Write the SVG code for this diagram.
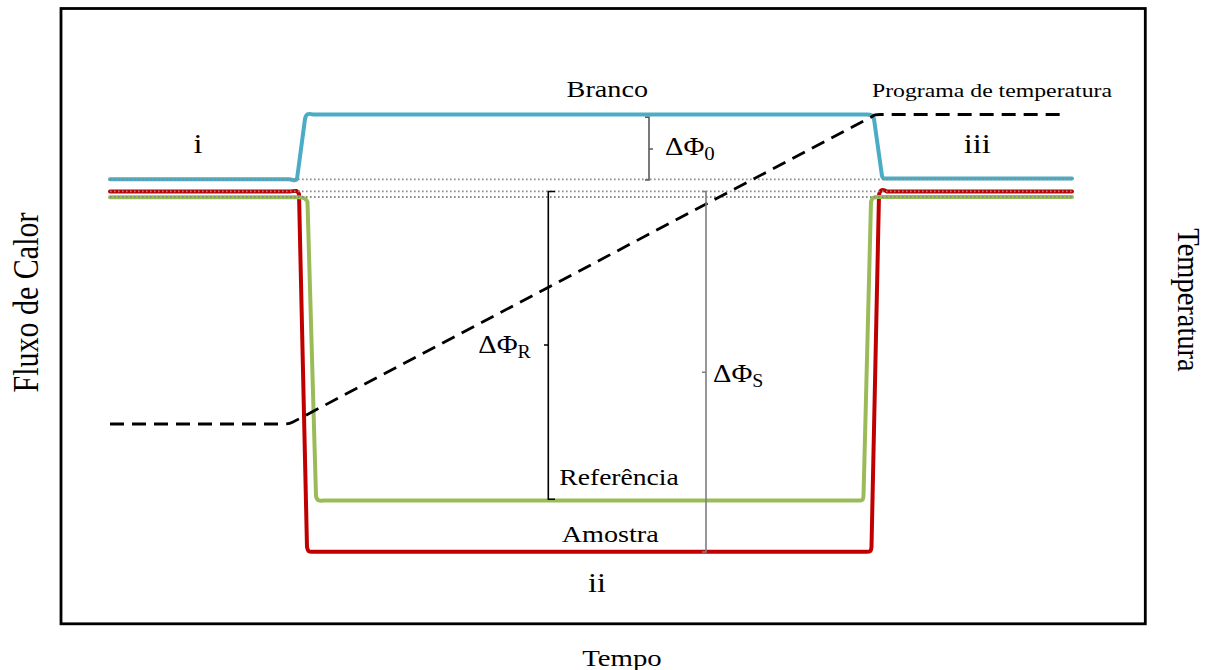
<svg xmlns="http://www.w3.org/2000/svg" width="1208" height="670" viewBox="0 0 1208 670">
<style>
.t{font-family:"Liberation Serif","Times New Roman",serif;fill:#000}
.c{fill:none;stroke-width:4;stroke-linejoin:round;stroke-linecap:round}
.dot{fill:none;stroke:#8a8a8a;stroke-width:1.8;stroke-dasharray:1.6 2.4}
.br{fill:none;stroke-width:1.6}
</style>
<rect width="1208" height="670" fill="#fff"/>
<g id="frame"><rect x="61" y="8.5" width="1084.3" height="615.3" fill="none" stroke="#000" stroke-width="2.8"/></g>
<g id="axes">
<text class="t" font-size="30" text-anchor="middle" transform="translate(37.5,302.5) scale(1.2,1) rotate(-90)">Fluxo de Calor</text>
<text class="t" font-size="28.5" text-anchor="middle" transform="translate(1178,300) scale(1.1,1) rotate(90)">Temperatura</text>
<text class="t" font-size="24" text-anchor="middle" transform="translate(622,666) scale(1.2,1)">Tempo</text>
</g>
<g id="connectors">
<path id="blue" class="c" stroke="#4BACC6" d="M110,179.3 H289 C293,179.3 295,182 297,179 L305,119 C306,114 308,113 313,114.5 H867 C871,114.5 873,115 874,119 L882,176 C883,179.5 885,178.5 889,178.5 H1072"/>
<path id="red" class="c" stroke="#C00000" d="M110,191.5 H290 C294,191.5 297,189 299,194 L307,547 C308,552 309,552 313,551.8 H866 C870,551.8 871,552 871.5,547 L879,195 C880,189 883,189 887,191.5 H1072"/>
<path id="green" class="c" stroke="#9BBB59" d="M110,197.3 H297 C302,197 306,197.5 307.5,202 L316,496 C317,500.8 319,500.8 323,500.6 H858 C862,500.6 863,501 863.5,496 L871,202 C872,197.5 874,197 878,197 H1072"/>
<path class="dot" d="M110,179.3 H1072 M110,191.3 H1072 M110,197 H1072"/>
<path id="program" fill="none" stroke="#000" stroke-width="2.8" stroke-dasharray="14 8" d="M110,424 H284 C288,424 290,423.5 293,422 L873,116 C874,115 876,114.5 880,114.5 H1062"/>
<path id="b0" class="br" stroke="#595959" d="M645,117.3 H649 V180 H645 M649,149 H653"/>
<path id="bR" class="br" stroke="#000" d="M555,191.5 H548.3 V499.3 H555 M548.3,345 H544"/>
<path id="bS" class="br" stroke="#7f7f7f" stroke-width="2" d="M702,191.5 H706 V552 H702 M706,372.3 H702"/>
</g>
<g id="labels">
<text class="t" font-size="23.5" text-anchor="middle" transform="translate(607.3,97) scale(1.2,1)">Branco</text>
<text class="t" font-size="19.8" transform="translate(872,97.3) scale(1.2,1)">Programa de temperatura</text>
<text class="t" font-size="27" text-anchor="middle" transform="translate(198,153.3) scale(1.2,1)">i</text>
<text class="t" font-size="27" text-anchor="middle" transform="translate(977.3,153.3) scale(1.2,1)">iii</text>
<text class="t" font-size="27" text-anchor="middle" transform="translate(597,591.7) scale(1.2,1)">ii</text>
<text class="t" font-size="23" transform="translate(559.3,485) scale(1.2,1)">Referência</text>
<text class="t" font-size="23.5" transform="translate(561.7,542.3) scale(1.2,1)">Amostra</text>
<text class="t" font-size="26" transform="translate(665,155) scale(1.1,1)">ΔΦ<tspan font-size="19" dy="5">0</tspan></text>
<text class="t" font-size="26" transform="translate(478.3,353.3) scale(1.1,1)">ΔΦ<tspan font-size="18" dy="5">R</tspan></text>
<text class="t" font-size="26" transform="translate(713,381.7) scale(1.1,1)">ΔΦ<tspan font-size="18" dy="5">S</tspan></text>
</g>
</svg>
